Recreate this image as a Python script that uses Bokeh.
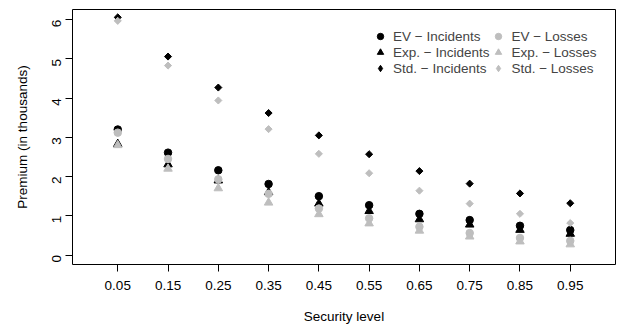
import math
from bokeh.plotting import figure
from bokeh.models import FixedTicker, Legend, LegendItem, Range1d
from bokeh.embed import file_html
from bokeh.resources import INLINE

# ---- data ----
security = [0.05, 0.15, 0.25, 0.35, 0.45, 0.55, 0.65, 0.75, 0.85, 0.95]
x_tick_labels = ["0.05", "0.15", "0.25", "0.35", "0.45", "0.55", "0.65", "0.75", "0.85", "0.95"]
y_ticks = [0, 1, 2, 3, 4, 5, 6]

ev_inc = [3.20, 2.61, 2.16, 1.81, 1.50, 1.27, 1.05, 0.89, 0.745, 0.635]
exp_inc = [2.83, 2.31, 1.90, 1.60, 1.31, 1.12, 0.91, 0.775, 0.64, 0.54]
std_inc = [6.06, 5.06, 4.27, 3.62, 3.05, 2.57, 2.14, 1.82, 1.57, 1.32]
ev_loss = [3.12, 2.45, 1.93, 1.56, 1.185, 0.935, 0.72, 0.56, 0.435, 0.36]
exp_loss = [2.80, 2.20, 1.70, 1.335, 1.04, 0.805, 0.62, 0.47, 0.345, 0.27]
std_loss = [5.97, 4.83, 3.94, 3.21, 2.58, 2.085, 1.64, 1.31, 1.05, 0.815]

BLACK = "#000000"
GRAY = "#BEBEBE"
FONT = "Liberation Sans"
FS = "13.5px"

p = figure(width=624, height=333, output_backend="svg", toolbar_location=None,
           x_range=Range1d(-0.04, 1.04), y_range=Range1d(-0.242, 6.26),
           min_border_left=72, min_border_right=9, min_border_top=9, min_border_bottom=69)

p.xgrid.visible = False
p.ygrid.visible = False
p.background_fill_color = "white"
p.border_fill_color = "white"
p.outline_line_color = "black"
p.outline_line_width = 1

r_ev_i = p.scatter(security, ev_inc, marker="circle", size=7.5, color=BLACK)
r_exp_i = p.scatter(security, exp_inc, marker="triangle", size=8.5, color=BLACK)
r_std_i = p.scatter(security, std_inc, marker="square", size=5, angle=math.pi / 4, color=BLACK)
r_ev_l = p.scatter(security, ev_loss, marker="circle", size=7.5, color=GRAY)
r_exp_l = p.scatter(security, exp_loss, marker="triangle", size=8.5, color=GRAY)
r_std_l = p.scatter(security, std_loss, marker="square", size=5, angle=math.pi / 4, color=GRAY)

# hidden diamond renderers used only for the legend symbols (legend ignores marker angle)
leg_std_i = p.scatter(security, std_inc, marker="diamond", color=BLACK, visible=False)
leg_std_l = p.scatter(security, std_loss, marker="diamond", color=GRAY, visible=False)

for ax in (p.xaxis[0], p.yaxis[0]):
    ax.axis_line_color = None
    ax.major_tick_line_color = "black"
    ax.major_tick_in = 0
    ax.major_tick_out = 7
    ax.minor_tick_line_color = None
    ax.major_label_text_font = FONT
    ax.major_label_text_font_size = FS
    ax.major_label_text_color = "black"
    ax.axis_label_text_font = FONT
    ax.axis_label_text_font_size = FS
    ax.axis_label_text_font_style = "normal"
    ax.axis_label_text_color = "black"

p.xaxis.ticker = FixedTicker(ticks=security)
p.xaxis.major_label_overrides = {x: s for x, s in zip(security, x_tick_labels)}
p.xaxis.axis_label = "Security level"
p.xaxis.major_label_standoff = 9
p.xaxis.axis_label_standoff = 16

p.yaxis.ticker = FixedTicker(ticks=y_ticks)
p.yaxis.major_label_orientation = math.pi / 2
p.yaxis.axis_label = "Premium (in thousands)"
p.yaxis.major_label_standoff = 9
p.yaxis.axis_label_standoff = 15

legend = Legend(items=[
    LegendItem(label="EV \u2212 Incidents", renderers=[r_ev_i]),
    LegendItem(label="Exp. \u2212 Incidents", renderers=[r_exp_i]),
    LegendItem(label="Std. \u2212 Incidents", renderers=[leg_std_i]),
    LegendItem(label="EV \u2212 Losses", renderers=[r_ev_l]),
    LegendItem(label="Exp. \u2212 Losses", renderers=[r_exp_l]),
    LegendItem(label="Std. \u2212 Losses", renderers=[leg_std_l]),
], location=(299, 188), orientation="vertical", nrows=3)
legend.background_fill_alpha = 0
legend.border_line_color = None
legend.inactive_fill_alpha = 0
legend.label_text_font = FONT
legend.label_text_font_size = FS
legend.glyph_width = 18
legend.glyph_height = 16
legend.label_height = 16
legend.label_standoff = 4
legend.spacing = 0
legend.padding = 0
legend.margin = 0
p.add_layout(legend, "center")

open("out.html", "w").write(file_html(p, INLINE))
